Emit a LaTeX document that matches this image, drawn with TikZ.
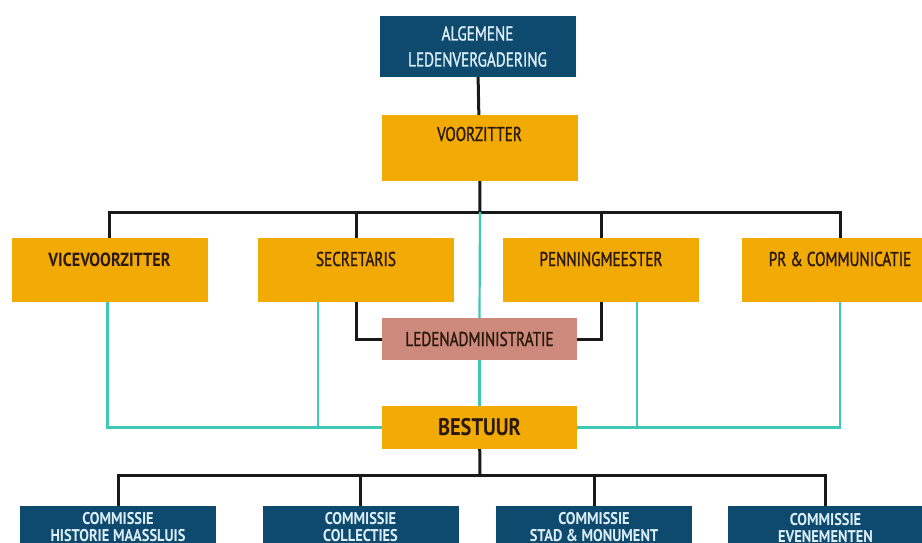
\documentclass[tikz,border=0pt]{standalone}
\usepackage{fontspec}
\setmainfont{PT Sans}[FakeStretch=0.76]
\newfontfamily\semibold{PT Sans}[FakeStretch=0.76, FakeBold=1.3]
\newfontfamily\heavy{PT Sans Bold}[FakeStretch=0.85]
\usepackage{xcolor}
\usetikzlibrary{positioning}

\definecolor{navy}{HTML}{0E4A6D}
\definecolor{gold}{HTML}{F2AA05}
\definecolor{salmon}{HTML}{CD8A7C}
\definecolor{teal}{HTML}{3FC8B6}
\definecolor{ink}{HTML}{2B1A0C}
\definecolor{pale}{HTML}{DCEEF8}

\begin{document}
\begin{tikzpicture}[x=1pt, y=-1pt,
    navybox/.style={rectangle, fill=navy, text=pale, inner sep=0pt, minimum width=196pt, align=center},
    goldbox/.style={rectangle, fill=gold, text=ink, inner sep=0pt, minimum width=196pt, minimum height=64pt, text height=14pt, text depth=22pt, font=\fontsize{20pt}{24pt}\semibold},
    commbox/.style={navybox, minimum height=43pt, font=\fontsize{17pt}{17pt}\heavy},
    blk/.style={line width=3pt, draw=black!90},
    tl/.style={line width=2.2pt, draw=teal}]
            \useasboundingbox[fill=white] (0,0) rectangle (922,543);

            \node[navybox, minimum height=61pt, font=\fontsize{20pt}{26pt}\semibold] (alv) at (477.5,46.5) {ALGEMENE\\LEDENVERGADERING};
            \node[goldbox, minimum height=66pt, text depth=28pt] (voorz) at (479.5,148) {VOORZITTER};

            \node[goldbox, font=\fontsize{19pt}{24pt}\heavy] (vice) at (109.5,270) {VICEVOORZITTER};
            \node[goldbox] (secr) at (356,270) {SECRETARIS};
            \node[goldbox] (penn) at (601,270) {PENNINGMEESTER};
            \node[goldbox] (pr) at (840,270) {PR \& COMMUNICATIE};

            \node[rectangle, fill=salmon, text=ink, minimum width=195pt, minimum height=42pt, font=\fontsize{20pt}{24pt}\semibold] (leden) at (479.5,339) {LEDENADMINISTRATIE};
            \node[rectangle, fill=gold, text=ink, minimum width=195pt, minimum height=43pt, font=\fontsize{24pt}{28pt}\heavy] (bestuur) at (479.5,427.5) {BESTUUR};

            \node[commbox] (hist) at (118,527.5) {COMMISSIE\\HISTORIE MAASSLUIS};
            \node[commbox] (coll) at (360.5,527.5) {COMMISSIE\\COLLECTIES};
            \node[commbox] (stad) at (594,527.5) {COMMISSIE\\STAD \& MONUMENT};
            \node[commbox] (even) at (825.5,527.5) {COMMISSIE\\EVENEMENTEN};

            \coordinate (top) at (480,212);
            \coordinate (low) at (480,475);

            % bestuursleden onder de voorzitter
            \draw[blk] (alv) -- (voorz);
            \draw[blk] (voorz) -- (top);
            \draw[blk] (vice.north) |- (top) -| (pr.north);
            \draw[blk] (secr.north) -- (secr.north |- top);
            \draw[blk] (penn.north) -- (penn.north |- top);
            \draw[blk] (secr.south) |- (leden.west);
            \draw[blk] (penn.south) |- (leden.east);

            % samen het bestuur
            \draw[tl] (top) -- (leden.north);
            \draw[tl] (leden.south) -- (bestuur.north);
            \draw[tl] ([xshift=-2pt]vice.south) |- (bestuur.west);
            \draw[tl] ([xshift=-38pt]secr.south) |- (bestuur.west);
            \draw[tl] ([xshift=36pt]penn.south) |- (bestuur.east);
            \draw[tl] (pr.south) |- (bestuur.east);

            % commissies
            \draw[blk] (bestuur) -- (low);
            \draw[blk] (hist.north) |- (low) -| (even.north);
            \draw[blk] (coll.north) -- (coll.north |- low);
            \draw[blk] (stad.north) -- (stad.north |- low);
        \end{tikzpicture}
\end{document}
